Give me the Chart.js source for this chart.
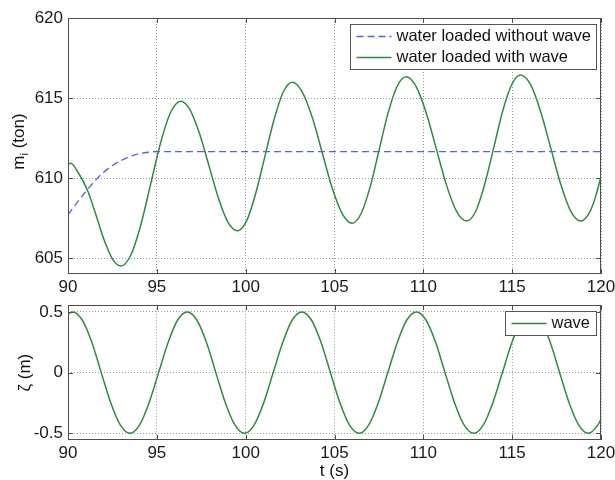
<!DOCTYPE html>
<html>
<head>
<meta charset="utf-8">
<script src="https://cdn.jsdelivr.net/npm/chart.js@4"></script>
<style>
  html, body { margin: 0; padding: 0; background: #fff; }
  #wrap { position: relative; width: 615px; height: 480px; }
  canvas { position: absolute; left: 0; }
  #massChart { top: 0; }
  #waveChart { top: 290px; }
</style>
</head>
<body>
<div id="wrap">
  <canvas id="massChart" width="615" height="300"></canvas>
  <canvas id="waveChart" width="615" height="190"></canvas>
</div>
<script>
// ===== DATA =====
const xTicks = [90, 95, 100, 105, 110, 115, 120];
const massTicks = [605, 610, 615, 620];
const waveTicks = [-0.5, 0, 0.5];

// water loaded without wave (dashed)
const tCalm = [90, 90.5, 91, 91.5, 92, 92.5, 93, 93.5, 94, 94.5, 95, 120];
const massCalm = [607.7, 608.45, 609.15, 609.8, 610.35, 610.78, 611.1, 611.35, 611.52, 611.61, 611.65, 611.65];

// water loaded with wave
const tMass = [
  90.00, 90.15, 90.62, 91.09, 91.57, 92.04, 92.51, 92.98, 93.54, 94.10, 94.66, 95.22, 95.78,
  96.34, 96.87, 97.40, 97.94, 98.47, 99.00, 99.53, 100.05, 100.56, 101.08, 101.60, 102.11,
  102.62, 103.18, 103.75, 104.31, 104.87, 105.44, 106.00, 106.50, 107.01, 107.51, 108.01, 108.52,
  109.02, 109.59, 110.16, 110.73, 111.30, 111.87, 112.44, 112.95, 113.45, 113.96, 114.46, 114.97,
  115.47, 116.04, 116.60, 117.17, 117.74, 118.30, 118.87, 119.40, 119.70, 120.00
];
const massWave = [
  610.85, 610.92, 610.25, 609.25, 607.71, 606.11, 604.93, 604.50, 605.19, 607.08, 609.65, 612.23, 614.11,
  614.80, 614.26, 612.78, 610.75, 608.73, 607.24, 606.70, 607.32, 609.02, 611.34, 613.66, 615.36,
  615.98, 615.39, 613.78, 611.58, 609.37, 607.76, 607.17, 607.78, 609.46, 611.75, 614.04, 615.72,
  616.33, 615.73, 614.08, 611.82, 609.57, 607.91, 607.31, 607.92, 609.59, 611.88, 614.16, 615.83,
  616.44, 615.83, 614.16, 611.88, 609.59, 607.92, 607.31, 607.95, 608.85, 610.10
];

// wave elevation
const tWave = [
  90.00, 90.26, 90.80, 91.34, 91.87, 92.41, 92.95, 93.49, 94.02, 94.56, 95.10, 95.64, 96.17,
  96.71, 97.25, 97.79, 98.32, 98.86, 99.40, 99.94, 100.47, 101.01, 101.55, 102.09, 102.62,
  103.16, 103.70, 104.24, 104.77, 105.31, 105.85, 106.39, 106.92, 107.46, 108.00, 108.54, 109.07,
  109.61, 110.15, 110.69, 111.22, 111.76, 112.30, 112.84, 113.37, 113.91, 114.45, 114.99, 115.52,
  116.06, 116.60, 117.14, 117.67, 118.21, 118.75, 119.29, 119.82, 120.00
];
const waveElev = [
  0.484, 0.5, 0.433, 0.25, 0, -0.25, -0.433, -0.5, -0.433, -0.25, 0, 0.25, 0.433,
  0.5, 0.433, 0.25, 0, -0.25, -0.433, -0.5, -0.433, -0.25, 0, 0.25, 0.433,
  0.5, 0.433, 0.25, 0, -0.25, -0.433, -0.5, -0.433, -0.25, 0, 0.25, 0.433,
  0.5, 0.433, 0.25, 0, -0.25, -0.433, -0.5, -0.433, -0.25, 0, 0.25, 0.433,
  0.5, 0.433, 0.25, 0, -0.25, -0.433, -0.5, -0.433, -0.383
];

// ===== HELPERS =====
const FONT = "'Liberation Sans', Arial, sans-serif";
const GREEN = "#2f8b3f";
const BLUE = "#5566d6";

Chart.defaults.font.family = FONT;
Chart.defaults.color = "#1a1a1a";

function pts(xs, ys) {
  return xs.map((x, i) => ({ x: x, y: ys[i] }));
}

function fixedTicks(values) {
  return scale => { scale.ticks = values.map(v => ({ value: v })); };
}

// matlab style frame, inner ticks, boxed legend, axis titles
function decor(cfg) {
  return {
    id: "decor",
    afterDatasetsDraw(chart) {
      const { ctx, chartArea: a, scales } = chart;
      ctx.save();
      ctx.strokeStyle = "#4d4d4d";
      ctx.lineWidth = 1;
      ctx.beginPath();
      scales.x.ticks.forEach(t => {
        const px = Math.round(scales.x.getPixelForValue(t.value)) + 0.5;
        ctx.moveTo(px, a.bottom); ctx.lineTo(px, a.bottom - 5);
        ctx.moveTo(px, a.top); ctx.lineTo(px, a.top + 5);
      });
      scales.y.ticks.forEach(t => {
        const py = Math.round(scales.y.getPixelForValue(t.value)) + 0.5;
        ctx.moveTo(a.left, py); ctx.lineTo(a.left + 5, py);
        ctx.moveTo(a.right, py); ctx.lineTo(a.right - 5, py);
      });
      ctx.stroke();
      ctx.strokeRect(Math.round(a.left) + 0.5, Math.round(a.top) + 0.5,
        Math.round(a.width) - 1, Math.round(a.height) - 1);

      // legend
      const items = chart.data.datasets.map(d => ({ text: d.label, color: d.borderColor, dash: d.borderDash }));
      const rowH = 21;
      ctx.font = "16.5px " + FONT;
      const tw = Math.max(...items.map(it => ctx.measureText(it.text).width));
      const w = Math.round(6 + 35 + 5 + tw + 6), h = items.length * rowH + 3;
      const bx = Math.round(a.right - 5 - w) + 0.5, by = Math.round(a.top + 6) + 0.5;
      ctx.fillStyle = "#fff";
      ctx.fillRect(bx, by, w, h);
      ctx.strokeStyle = "#555";
      ctx.strokeRect(bx, by, w, h);
      items.forEach((it, i) => {
        const cy = by + 12 + i * rowH;
        ctx.beginPath();
        ctx.setLineDash(it.dash || []);
        ctx.strokeStyle = it.color;
        ctx.lineWidth = 1.5;
        ctx.moveTo(bx + 6, cy); ctx.lineTo(bx + 41, cy);
        ctx.stroke();
        ctx.setLineDash([]);
        ctx.fillStyle = "#111";
        ctx.textBaseline = "middle";
        ctx.textAlign = "left";
        ctx.fillText(it.text, bx + 46, cy);
      });

      // y title (rotated, with optional subscript)
      ctx.fillStyle = "#111";
      ctx.translate(cfg.yTitleX, (a.top + a.bottom) / 2 + (cfg.yTitleDy || 0));
      ctx.rotate(-Math.PI / 2);
      ctx.textBaseline = "middle";
      ctx.textAlign = "left";
      const big = "17px " + FONT, small = "11px " + FONT;
      ctx.font = big;
      const w1 = ctx.measureText(cfg.yTitle[0]).width;
      const w3 = ctx.measureText(cfg.yTitle[2]).width;
      ctx.font = small;
      const w2 = ctx.measureText(cfg.yTitle[1]).width;
      let x0 = -(w1 + w2 + w3) / 2;
      ctx.font = big;
      ctx.fillText(cfg.yTitle[0], x0, 0);
      ctx.font = small;
      ctx.fillText(cfg.yTitle[1], x0 + w1, 6);
      ctx.font = big;
      ctx.fillText(cfg.yTitle[2], x0 + w1 + w2, 0);
      ctx.restore();

      if (cfg.xTitle) {
        ctx.save();
        ctx.font = "17px " + FONT;
        ctx.fillStyle = "#111";
        ctx.textAlign = "center";
        ctx.textBaseline = "middle";
        ctx.fillText(cfg.xTitle, (a.left + a.right) / 2, a.bottom + 31.5);
        ctx.restore();
      }
    }
  };
}

function axisOptions(min, max, ticks, xHeight, fmt) {
  const grid = { color: "#9a9a9a", lineWidth: 1, drawTicks: false };
  return {
    x: {
      type: "linear", min: 90, max: 120,
      afterBuildTicks: fixedTicks(xTicks),
      afterFit: s => { s.height = xHeight; s.paddingLeft = 0; s.paddingRight = 0; },
      grid: grid,
      border: { display: false, dash: [1, 2] },
      ticks: { font: { size: 17 }, padding: 3, maxRotation: 0, color: "#1a1a1a" }
    },
    y: {
      type: "linear", min: min, max: max,
      afterBuildTicks: fixedTicks(ticks),
      afterFit: s => { s.width = 68; },
      grid: grid,
      border: { display: false, dash: [1, 2] },
      ticks: { font: { size: 17 }, padding: 5, color: "#1a1a1a", callback: fmt }
    }
  };
}

// ===== MASS CHART =====
new Chart(document.getElementById("massChart").getContext("2d"), {
  type: "line",
  data: {
    datasets: [
      { label: "water loaded without wave", data: pts(tCalm, massCalm), borderColor: BLUE,
        borderDash: [7, 4], borderWidth: 1.3, pointRadius: 0, cubicInterpolationMode: "monotone" },
      { label: "water loaded with wave", data: pts(tMass, massWave), borderColor: GREEN,
        borderWidth: 1.5, pointRadius: 0, cubicInterpolationMode: "monotone" }
    ]
  },
  options: {
    responsive: false,
    animation: false,
    layout: { padding: { top: 18, right: 14, left: 0, bottom: 0 } },
    plugins: { legend: { display: false }, tooltip: { enabled: false } },
    scales: axisOptions(604, 620, massTicks, 26, v => String(v))
  },
  plugins: [decor({ yTitleX: 19, yTitleDy: -4.5, yTitle: ["m", "i", " (ton)"] })]
});

// ===== WAVE CHART =====
new Chart(document.getElementById("waveChart").getContext("2d"), {
  type: "line",
  data: {
    datasets: [
      { label: "wave", data: pts(tWave, waveElev), borderColor: GREEN,
        borderWidth: 1.5, pointRadius: 0, cubicInterpolationMode: "monotone" }
    ]
  },
  options: {
    responsive: false,
    animation: false,
    layout: { padding: { top: 14, right: 14, left: 0, bottom: 0 } },
    plugins: { legend: { display: false }, tooltip: { enabled: false } },
    scales: axisOptions(-0.555, 0.555, waveTicks, 40, v => (v === 0 ? "0" : v.toFixed(1)))
  },
  plugins: [decor({ yTitleX: 25, yTitle: ["ζ", "", " (m)"], xTitle: "t (s)" })]
});
</script>
</body>
</html>
